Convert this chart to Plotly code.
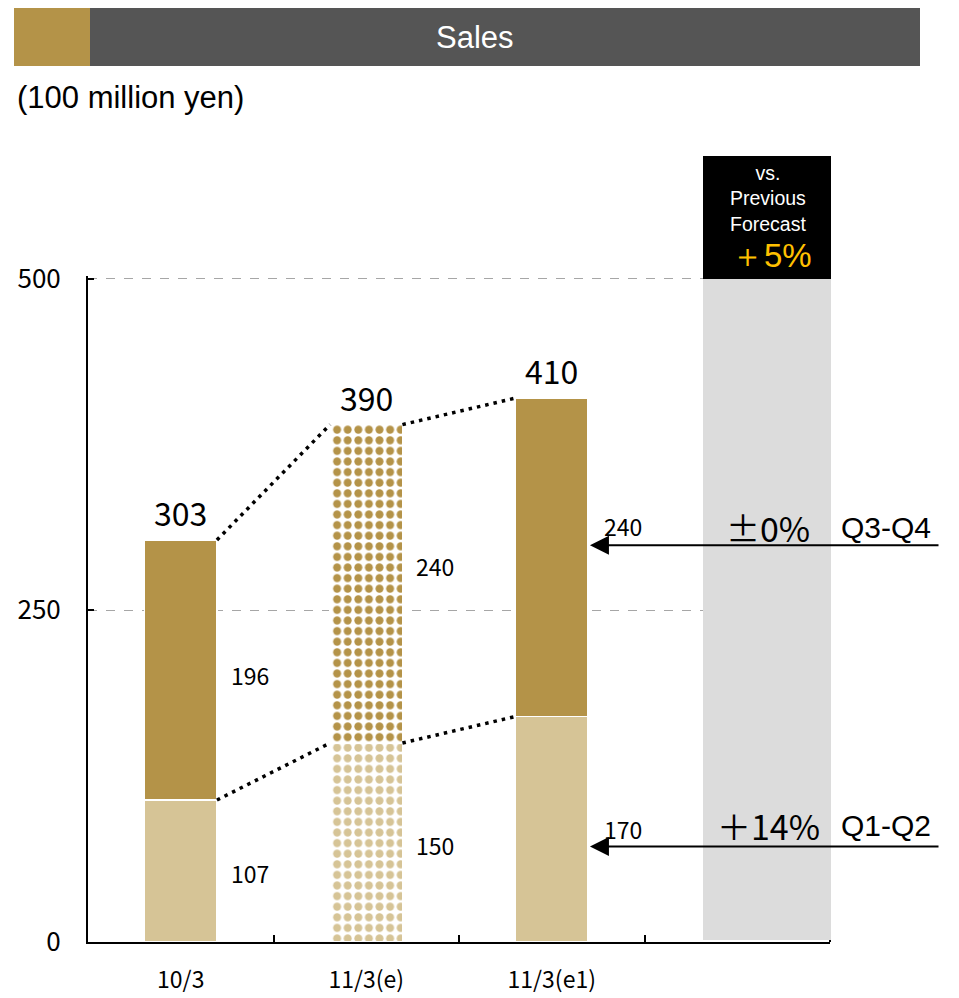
import plotly.graph_objects as go

categories = ["10/3", "11/3(e)", "11/3(e1)"]
h1_values = [107, 150, 170]   # Q1-Q2
h2_values = [196, 240, 240]   # Q3-Q4
totals = [303, 390, 410]
y_ticks = [0, 250, 500]
vs_prev_total = "＋5%"
vs_prev_h2 = "±0%"
vs_prev_h1 = "＋14%"

GOLD = "#B49348"
TAN = "#D6C496"
GOTHIC = "Noto Sans CJK JP"
ARIAL = "Liberation Sans, Arial"

W, H = 959, 998
OFF = 8  # page body offset
L, R, T, B = 80, 822, 268, 934
X_RANGE = [-0.5, 3.5]


def px(x):  # screen pixel -> paper x
    return (x - OFF - L) / (R - L)


def py(y):  # screen pixel -> paper y
    return (B - (y - OFF)) / (B - T)


def pxd(x):  # screen pixel -> x data
    return X_RANGE[0] + (X_RANGE[1] - X_RANGE[0]) * px(x)


xs = list(range(len(categories)))
bw = 0.39
patterns = ["", ".", ""]

fig = go.Figure()
fig.add_trace(go.Bar(
    x=xs, y=h1_values, width=bw,
    marker=dict(color=TAN, line=dict(color="white", width=1.5),
                pattern=dict(shape=patterns, size=10.6, solidity=0.45,
                             fgcolor=TAN, bgcolor="white", fillmode="replace")),
    hoverinfo="skip"))
fig.add_trace(go.Bar(
    x=xs, y=h2_values, width=bw,
    marker=dict(color=GOLD, line=dict(color="white", width=1.5),
                pattern=dict(shape=patterns, size=10.6, solidity=0.45,
                             fgcolor=GOLD, bgcolor="white", fillmode="replace")),
    hoverinfo="skip"))

# dotted connectors
tops = [a + b for a, b in zip(h1_values, h2_values)]
for series in (tops, h1_values):
    for i in range(len(xs) - 1):
        fig.add_trace(go.Scatter(
            x=[xs[i] + bw / 2, xs[i + 1] - bw / 2],
            y=[series[i], series[i + 1]],
            mode="lines", line=dict(color="black", width=3.5, dash="3.5px,5px"),
            hoverinfo="skip"))

ann = []
# totals
for i, t in enumerate(totals):
    ann.append(dict(x=xs[i], y=t, text=str(t), showarrow=False, yanchor="bottom",
                    yshift=3, font=dict(family=GOTHIC, size=32, color="black")))
# segment labels
seg_shift_h2 = [-5, 18, 31]
seg_shift_h1 = [-2, -2, 0]
for i in range(len(xs)):
    ann.append(dict(x=xs[i] + bw / 2, y=h1_values[i] + h2_values[i] / 2, text=str(h2_values[i]),
                    showarrow=False, xanchor="left", xshift=12 if i < 2 else 14,
                    yshift=seg_shift_h2[i], font=dict(family=GOTHIC, size=23, color="black")))
    ann.append(dict(x=xs[i] + bw / 2, y=h1_values[i] / 2, text=str(h1_values[i]),
                    showarrow=False, xanchor="left", xshift=12 if i < 2 else 14,
                    yshift=seg_shift_h1[i], font=dict(family=GOTHIC, size=23, color="black")))

# arrows pointing at last bar
last = len(xs) - 1
arrow_y = [299, 72]
for ay in arrow_y:
    ann.append(dict(x=xs[last] + bw / 2, y=ay, ax=pxd(940), ay=ay, axref="x", ayref="y",
                    xref="x", yref="y", text="", showarrow=True, arrowhead=2,
                    arrowsize=1.9, arrowwidth=2, arrowcolor="black", standoff=2))

ann += [
    dict(xref="paper", x=px(768), y=arrow_y[0], yshift=18, text=vs_prev_h2, showarrow=False,
         xanchor="center", yanchor="middle",
         font=dict(family=GOTHIC, size=34, color="black")),
    dict(xref="paper", x=px(768), y=arrow_y[1], yshift=21, text=vs_prev_h1, showarrow=False,
         xanchor="center", yanchor="middle",
         font=dict(family=GOTHIC, size=34, color="black")),
    dict(xref="paper", x=px(839), y=arrow_y[0], yshift=18, text="Q3-Q4", showarrow=False,
         xanchor="left", yanchor="middle", font=dict(family=ARIAL, size=30, color="black")),
    dict(xref="paper", x=px(839), y=arrow_y[1], yshift=21, text="Q1-Q2", showarrow=False,
         xanchor="left", yanchor="middle", font=dict(family=ARIAL, size=30, color="black")),
]

# header
ann += [
    dict(xref="paper", yref="paper", x=px(475), y=py(37), text="Sales", showarrow=False,
         xanchor="center", yanchor="middle", font=dict(family=ARIAL, size=31, color="white")),
    dict(xref="paper", yref="paper", x=px(15), y=py(97), xanchor="left", yanchor="middle",
         text="(100 million yen)", showarrow=False,
         font=dict(family=ARIAL, size=31, color="black")),
    dict(xref="paper", yref="paper", x=px(768), y=py(198), xanchor="center", yanchor="middle",
         text="vs.<br>Previous<br>Forecast", showarrow=False, align="center",
         font=dict(family=ARIAL, size=19.5, color="white")),
    dict(xref="paper", yref="paper", x=px(771), y=py(255), xanchor="center", yanchor="middle",
         text=vs_prev_total, showarrow=False,
         font=dict(family=ARIAL, size=33, color="#FFC000")),
]

shapes = [
    dict(type="rect", xref="paper", yref="paper", x0=px(14), x1=px(90), y0=py(66), y1=py(6),
         fillcolor=GOLD, line=dict(width=0), layer="above"),
    dict(type="rect", xref="paper", yref="paper", x0=px(90), x1=px(920), y0=py(66), y1=py(6),
         fillcolor="#555555", line=dict(width=0), layer="above"),
    dict(type="rect", xref="paper", yref="paper", x0=px(703), x1=px(831), y0=py(940), y1=py(279),
         fillcolor="#DCDCDC", line=dict(width=0), layer="above"),
    dict(type="rect", xref="paper", yref="paper", x0=px(703), x1=px(831), y0=py(279), y1=py(156),
         fillcolor="black", line=dict(width=0), layer="above"),
]

fig.update_layout(
    barmode="stack", showlegend=False,
    width=W, height=H,
    margin=dict(l=L, r=W - R, t=T, b=H - B, autoexpand=False),
    plot_bgcolor="white", paper_bgcolor="white",
    annotations=ann, shapes=shapes,
)
fig.update_xaxes(
    range=X_RANGE, tickvals=xs, ticktext=categories, ticks="", automargin=False,
    showline=True, linecolor="black", linewidth=2, showgrid=False, zeroline=False,
    tickfont=dict(family=GOTHIC, size=23, color="black"), ticklabelstandoff=16,
    minor=dict(tickvals=[0.5, 1.5, 2.5, 3.5], ticks="inside", ticklen=7, tickwidth=1.5,
               tickcolor="black", showgrid=False),
)
fig.update_yaxes(
    range=[0, 502], tickvals=y_ticks, showline=True, linecolor="black", linewidth=2,
    automargin=False,
    showgrid=True, gridcolor="#A6A6A6", griddash="dash", gridwidth=1, zeroline=False,
    tickfont=dict(family=GOTHIC, size=26, color="black"), ticks="inside", ticklen=6,
    tickwidth=1.5, tickcolor="black", ticklabelstandoff=20,
)

fig.write_html("out.html")
